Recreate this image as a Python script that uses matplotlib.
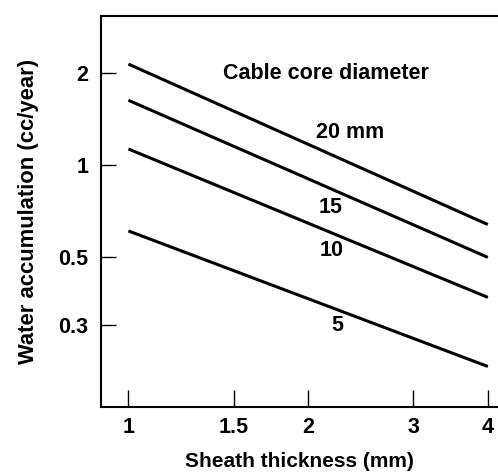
import matplotlib
matplotlib.use("Agg")
import matplotlib.pyplot as plt
from matplotlib.ticker import FixedLocator, FixedFormatter, NullLocator

# sheath thickness (mm) at the two ends of each curve
thickness = [1.0, 4.0]
# water accumulation (cc/year) per cable core diameter
water_20mm = [2.14, 0.64]
water_15mm = [1.63, 0.50]
water_10mm = [1.13, 0.37]
water_5mm = [0.61, 0.22]
curve_labels = ["20 mm", "15", "10", "5"]
label_pos = [(2.35, 1.28), (2.18, 0.73), (2.19, 0.527), (2.24, 0.30)]

x_ticks = [1, 1.5, 2, 3, 4]
x_tick_labels = ["1", "1.5", "2", "3", "4"]
y_ticks = [0.3, 0.5, 1, 2]
y_tick_labels = ["0.3", "0.5", "1", "2"]

plt.rcParams["font.family"] = ["Liberation Sans", "DejaVu Sans"]
plt.rcParams["font.weight"] = "bold"

fig = plt.figure(figsize=(4.98, 4.74), dpi=100)
ax = fig.add_axes([0.203, 0.141, 0.797, 0.825])

for ys in (water_20mm, water_15mm, water_10mm, water_5mm):
    ax.plot(thickness, ys, color="black", lw=2.2, solid_capstyle="butt")

for txt, (tx, ty) in zip(curve_labels, label_pos):
    ax.text(tx, ty, txt, ha="center", va="center", fontsize=15.5, fontweight="bold")
ax.text(2.14, 2.0, "Cable core diameter", ha="center", va="center",
        fontsize=15.5, fontweight="bold")

ax.set_xscale("log")
ax.set_yscale("log")
ax.set_xlim(0.9, 4.16)
ax.set_ylim(0.162, 3.07)

ax.xaxis.set_major_locator(FixedLocator(x_ticks))
ax.xaxis.set_major_formatter(FixedFormatter(x_tick_labels))
ax.xaxis.set_minor_locator(NullLocator())
ax.yaxis.set_major_locator(FixedLocator(y_ticks))
ax.yaxis.set_major_formatter(FixedFormatter(y_tick_labels))
ax.yaxis.set_minor_locator(NullLocator())

ax.tick_params(axis="x", direction="in", length=12, width=1.0, pad=7,
               labelsize=15.5)
ax.tick_params(axis="y", direction="in", length=11, width=1.0, pad=9,
               labelsize=15.5)
for lab in ax.get_xticklabels() + ax.get_yticklabels():
    lab.set_fontweight("bold")

ax.spines["right"].set_visible(False)
for s in ("left", "top", "bottom"):
    ax.spines[s].set_linewidth(1.5)

ax.set_xlabel("Sheath thickness (mm)", fontsize=15, fontweight="bold",
              labelpad=10)
ax.set_ylabel("Water accumulation (cc/year)", fontsize=15.8, fontweight="bold",
              labelpad=14)

fig.savefig("out.png", dpi=100)
